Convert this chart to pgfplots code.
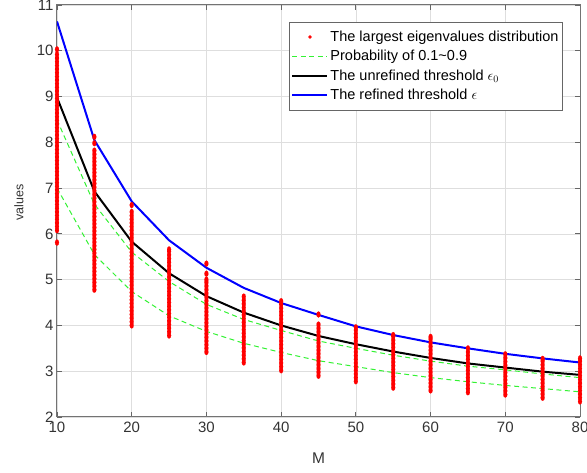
\documentclass[border=0pt]{standalone}
\usepackage{fontspec}
\setmainfont{Liberation Sans}
\usepackage{pgfplots}
\pgfplotsset{compat=1.18}
\definecolor{mgreen}{rgb}{0.2,0.95,0.2}
\begin{document}
\begin{tikzpicture}
\begin{axis}[
  scale only axis, width=523pt, height=412pt,
  xmin=10, xmax=80, ymin=2, ymax=11,
  xtick={10,20,...,80}, ytick={2,3,...,11},
  grid=major, major grid style={draw=black!13, line width=0.6pt},
  axis line style={draw=black!55, line width=1pt},
  tick style={draw=black!60, line width=0.8pt},
  tick align=inside, major tick length=5pt,
  /pgf/number format/assume math mode=true,
  tick label style={font=\fontsize{15}{18}\selectfont, text=black!80},
  xticklabel style={yshift=-2pt},
  xlabel={M}, ylabel={values},
  xlabel style={font=\fontsize{15.5}{18}\selectfont, text=black!80, at={(axis description cs:0.5,-0.0995)}, anchor=center},
  ylabel style={font=\fontsize{12.5}{15}\selectfont, text=black!80, at={(axis description cs:-0.0727,0.52)}, anchor=center},
  legend cell align=left,
  legend style={at={(0.9675,0.9587)}, anchor=north east, draw=black!60, line width=0.8pt, fill=white,
    font=\fontsize{14.5}{17}\selectfont, text=black, row sep=5.5pt, inner xsep=2pt, inner ysep=7.5pt,
    nodes={inner xsep=2pt, inner ysep=1pt}},
  legend image code/.code={\draw[#1] (0pt,0pt) -- (35pt,0pt);},
]
% red dots: largest eigenvalue samples
\addplot[red, only marks, mark=*, mark size=2pt, mark options={solid, fill=red, draw=red, line width=0.1pt, yscale=1.5},
  legend image code/.code={\fill[red] (17.5pt,0pt) circle (1.3pt);}]
coordinates {
(10,5.81)(10,6.08)(10,6.16)(10,6.24)(10,6.32)(10,6.40)(10,6.48)(10,6.56)(10,6.64)(10,6.72)(10,6.80)(10,6.88)(10,6.96)(10,7.04)(10,7.12)(10,7.20)(10,7.28)(10,7.36)(10,7.44)(10,7.52)(10,7.60)(10,7.68)(10,7.76)(10,7.84)(10,7.92)(10,8.00)(10,8.08)(10,8.16)(10,8.24)(10,8.32)(10,8.40)(10,8.48)(10,8.56)(10,8.64)(10,8.72)(10,8.80)(10,8.88)(10,8.96)(10,9.04)(10,9.12)(10,9.20)(10,9.28)(10,9.36)(10,9.44)(10,9.52)(10,9.60)(10,9.68)(10,9.76)(10,9.84)(10,9.92)(10,10.03)
(15,4.78)(15,4.86)(15,4.94)(15,5.02)(15,5.10)(15,5.18)(15,5.26)(15,5.34)(15,5.42)(15,5.50)(15,5.58)(15,5.66)(15,5.74)(15,5.82)(15,5.90)(15,5.98)(15,6.06)(15,6.14)(15,6.22)(15,6.30)(15,6.38)(15,6.46)(15,6.54)(15,6.62)(15,6.70)(15,6.78)(15,6.86)(15,6.94)(15,7.02)(15,7.10)(15,7.18)(15,7.26)(15,7.34)(15,7.42)(15,7.50)(15,7.58)(15,7.66)(15,7.74)(15,7.82)(15,7.98)(15,8.12)
(20,4.00)(20,4.08)(20,4.16)(20,4.24)(20,4.32)(20,4.40)(20,4.48)(20,4.56)(20,4.64)(20,4.72)(20,4.80)(20,4.88)(20,4.96)(20,5.04)(20,5.12)(20,5.20)(20,5.28)(20,5.36)(20,5.44)(20,5.52)(20,5.60)(20,5.68)(20,5.76)(20,5.84)(20,5.92)(20,6.00)(20,6.08)(20,6.16)(20,6.24)(20,6.32)(20,6.40)(20,6.48)(20,6.63)
(25,3.78)(25,3.86)(25,3.94)(25,4.02)(25,4.10)(25,4.18)(25,4.26)(25,4.34)(25,4.42)(25,4.50)(25,4.58)(25,4.66)(25,4.74)(25,4.82)(25,4.90)(25,4.98)(25,5.06)(25,5.14)(25,5.22)(25,5.30)(25,5.38)(25,5.46)(25,5.54)(25,5.62)(25,5.66)
(30,3.42)(30,3.50)(30,3.58)(30,3.66)(30,3.74)(30,3.82)(30,3.90)(30,3.98)(30,4.06)(30,4.14)(30,4.22)(30,4.30)(30,4.38)(30,4.46)(30,4.54)(30,4.62)(30,4.70)(30,4.78)(30,4.86)(30,4.94)(30,5.00)(30,5.13)(30,5.35)
(35,3.19)(35,3.27)(35,3.35)(35,3.43)(35,3.51)(35,3.59)(35,3.67)(35,3.75)(35,3.83)(35,3.91)(35,3.99)(35,4.07)(35,4.15)(35,4.23)(35,4.31)(35,4.39)(35,4.47)(35,4.55)(35,4.63)
(40,3.02)(40,3.10)(40,3.18)(40,3.26)(40,3.34)(40,3.42)(40,3.50)(40,3.58)(40,3.66)(40,3.74)(40,3.82)(40,3.90)(40,3.98)(40,4.06)(40,4.14)(40,4.22)(40,4.30)(40,4.38)(40,4.46)(40,4.53)
(45,2.90)(45,2.98)(45,3.06)(45,3.14)(45,3.22)(45,3.30)(45,3.38)(45,3.46)(45,3.54)(45,3.62)(45,3.70)(45,3.78)(45,3.86)(45,3.94)(45,4.02)(45,4.24)
(50,2.78)(50,2.86)(50,2.94)(50,3.02)(50,3.10)(50,3.18)(50,3.26)(50,3.34)(50,3.42)(50,3.50)(50,3.58)(50,3.66)(50,3.74)(50,3.82)(50,3.90)(50,3.96)
(55,2.64)(55,2.72)(55,2.80)(55,2.88)(55,2.96)(55,3.04)(55,3.12)(55,3.20)(55,3.28)(55,3.36)(55,3.44)(55,3.52)(55,3.60)(55,3.68)(55,3.76)(55,3.79)
(60,2.58)(60,2.66)(60,2.74)(60,2.82)(60,2.90)(60,2.98)(60,3.06)(60,3.14)(60,3.22)(60,3.30)(60,3.38)(60,3.46)(60,3.54)(60,3.62)(60,3.70)(60,3.75)
(65,2.54)(65,2.62)(65,2.70)(65,2.78)(65,2.86)(65,2.94)(65,3.02)(65,3.10)(65,3.18)(65,3.26)(65,3.34)(65,3.42)(65,3.50)
(70,2.49)(70,2.57)(70,2.65)(70,2.73)(70,2.81)(70,2.89)(70,2.97)(70,3.05)(70,3.13)(70,3.21)(70,3.29)(70,3.37)
(75,2.42)(75,2.50)(75,2.58)(75,2.66)(75,2.74)(75,2.82)(75,2.90)(75,2.98)(75,3.06)(75,3.14)(75,3.22)(75,3.27)
(80,2.34)(80,2.42)(80,2.50)(80,2.58)(80,2.66)(80,2.74)(80,2.82)(80,2.90)(80,2.98)(80,3.06)(80,3.14)(80,3.22)(80,3.28)
};
\addlegendentry{The largest eigenvalues distribution}
% 0.9 quantile
\addplot[mgreen, line width=1pt, dash pattern=on 5pt off 3.5pt, mark=none]
coordinates {(10,8.49)(15,6.65)(20,5.60)(25,4.96)(30,4.46)(35,4.13)(40,3.89)(45,3.66)(50,3.50)(55,3.35)(60,3.22)(65,3.11)(70,3.03)(75,2.94)(80,2.86)};
\addlegendentry{Probability of 0.1\textasciitilde0.9}
% 0.1 quantile
\addplot[mgreen, line width=1pt, dash pattern=on 5pt off 3.5pt, mark=none, forget plot]
coordinates {(10,7.00)(15,5.55)(20,4.74)(25,4.21)(30,3.87)(35,3.61)(40,3.41)(45,3.23)(50,3.10)(55,2.97)(60,2.86)(65,2.77)(70,2.69)(75,2.62)(80,2.55)};
% unrefined threshold
\addplot[black, line width=2pt, mark=none]
coordinates {(10,8.98)(15,6.93)(20,5.83)(25,5.14)(30,4.64)(35,4.28)(40,4.00)(45,3.77)(50,3.59)(55,3.43)(60,3.29)(65,3.17)(70,3.08)(75,2.99)(80,2.92)};
\addlegendentry{The unrefined threshold $\epsilon_0$}
% refined threshold
\addplot[blue, line width=2pt, mark=none]
coordinates {(10,10.64)(15,8.05)(20,6.71)(25,5.86)(30,5.26)(35,4.82)(40,4.49)(45,4.23)(50,3.98)(55,3.79)(60,3.63)(65,3.50)(70,3.38)(75,3.28)(80,3.19)};
\addlegendentry{The refined threshold $\epsilon$}
\end{axis}
\pgfresetboundingbox
\path[use as bounding box] ([xshift=-57pt,yshift=-56pt]current axis.south west) rectangle ([xshift=7pt,yshift=5pt]current axis.north east);
\end{tikzpicture}
\end{document}
